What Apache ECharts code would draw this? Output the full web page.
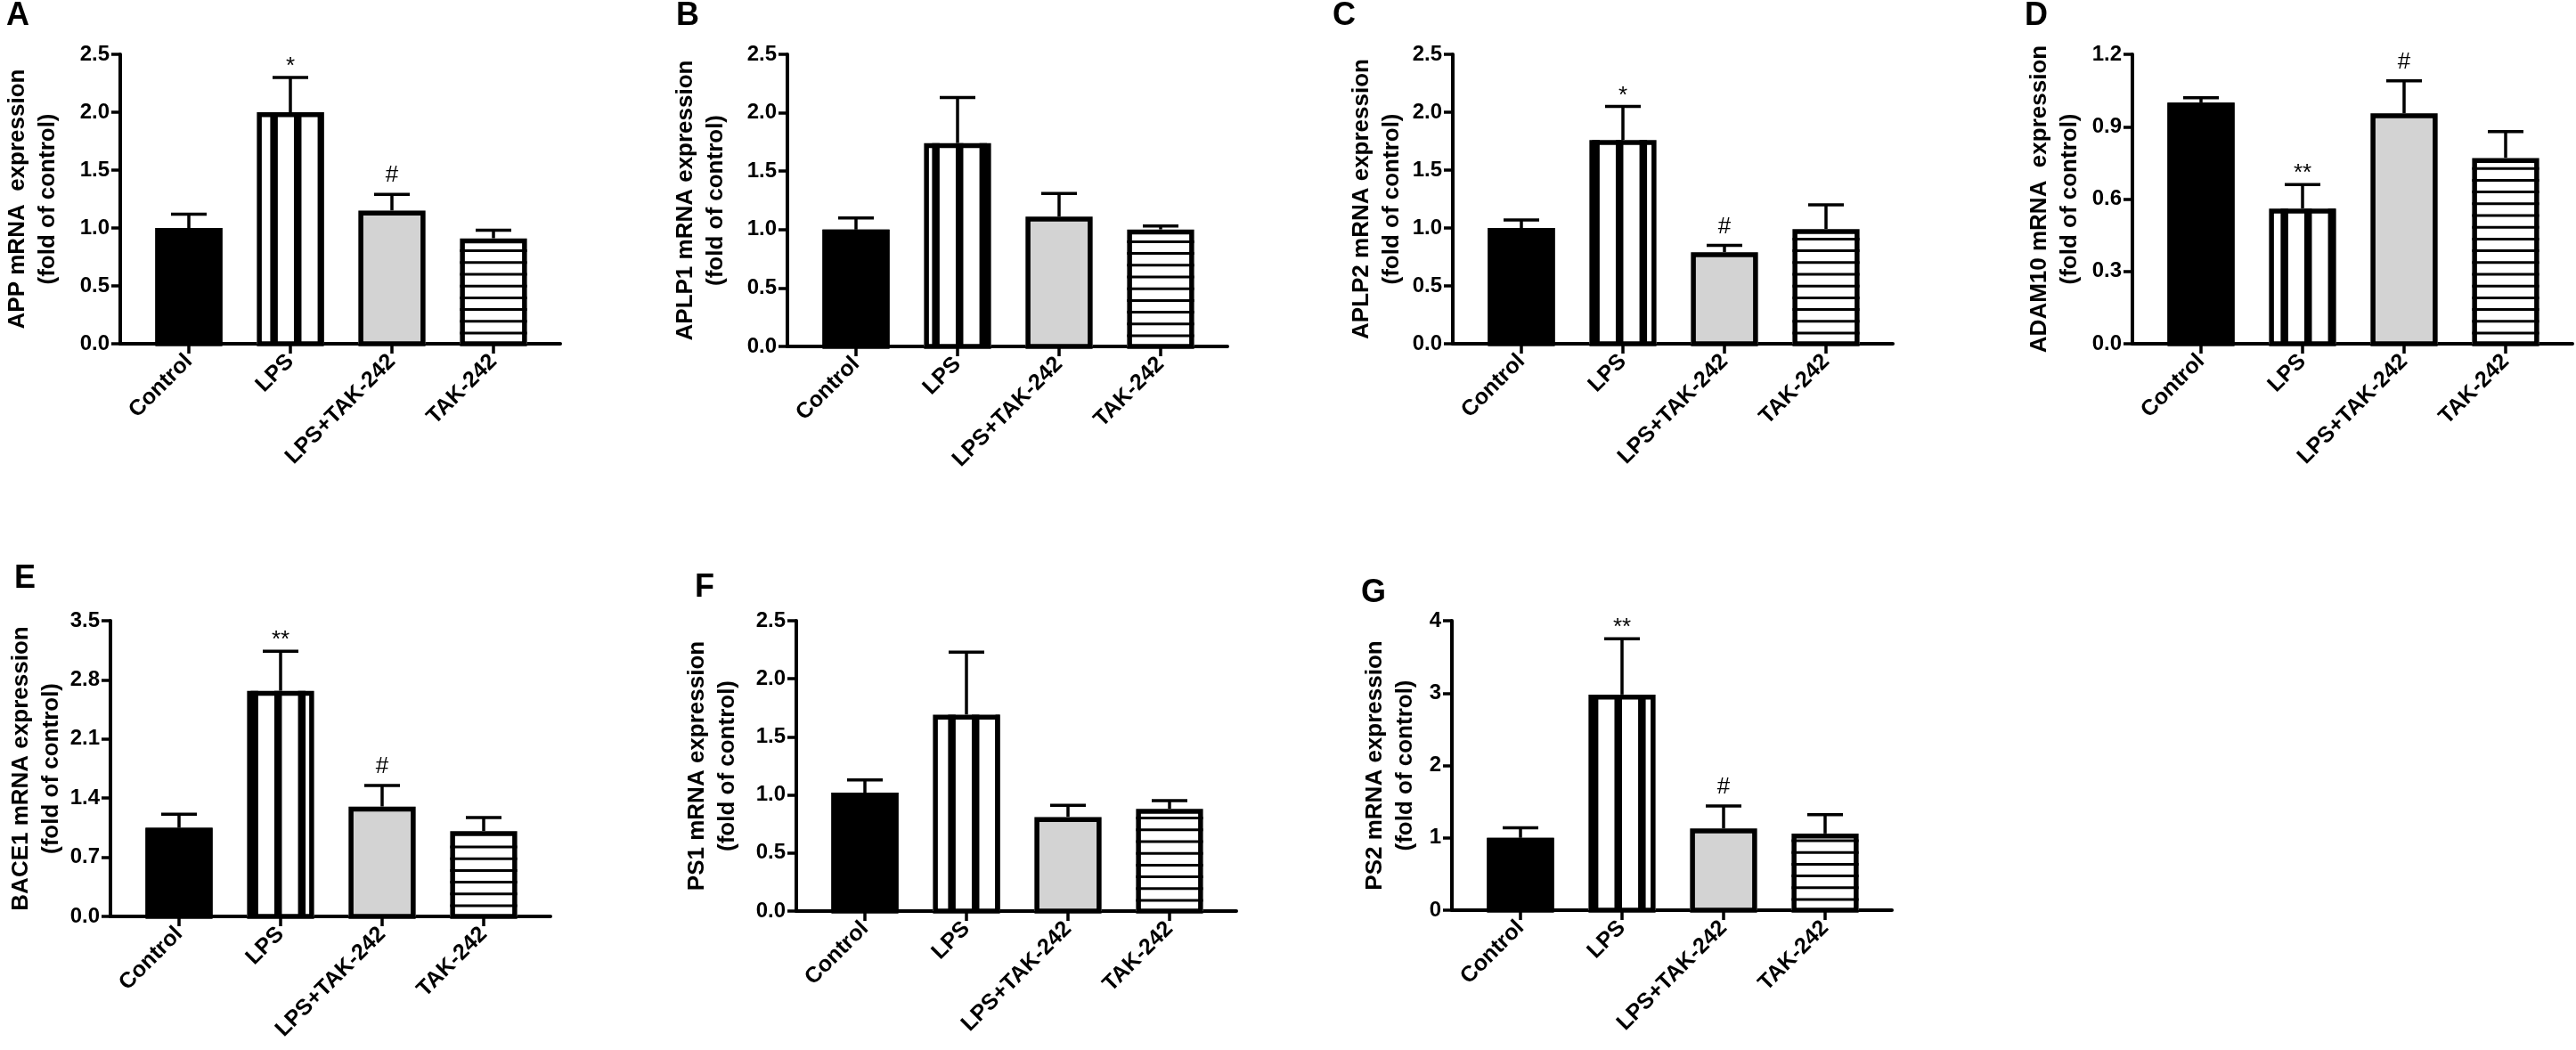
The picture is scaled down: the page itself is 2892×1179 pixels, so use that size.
<!DOCTYPE html>
<html>
<head>
<meta charset="utf-8">
<script src="https://cdn.jsdelivr.net/npm/echarts@6/dist/echarts.min.js"></script>
<style>
  html, body { margin: 0; padding: 0; background: #fff; }
  #chart { width: 2892px; height: 1179px; }
</style>
</head>
<body>
<div id="chart"></div>
<script>
const categories = ['Control', 'LPS', 'LPS+TAK-242', 'TAK-242'];

// mean and SEM (fold of control)
const appMean = [1.00, 2.00, 1.15, 0.91];
const appSem = [0.12, 0.30, 0.14, 0.07];
const aplp1Mean = [1.00, 1.74, 1.11, 1.00];
const aplp1Sem = [0.10, 0.39, 0.20, 0.03];
const aplp2Mean = [1.00, 1.76, 0.79, 0.99];
const aplp2Sem = [0.07, 0.29, 0.06, 0.21];
const adam10Mean = [1.00, 0.56, 0.955, 0.77];
const adam10Sem = [0.02, 0.10, 0.135, 0.11];
const bace1Mean = [1.05, 2.67, 1.30, 1.01];
const bace1Sem = [0.16, 0.47, 0.25, 0.16];
const ps1Mean = [1.02, 1.69, 0.81, 0.88];
const ps1Sem = [0.11, 0.54, 0.10, 0.07];
const ps2Mean = [1.00, 2.98, 1.13, 1.06];
const ps2Sem = [0.14, 0.77, 0.31, 0.26];

const appMarks = ['', '*', '#', ''];
const aplp1Marks = ['', '', '', ''];
const aplp2Marks = ['', '*', '#', ''];
const adam10Marks = ['', '**', '#', ''];
const bace1Marks = ['', '**', '#', ''];
const ps1Marks = ['', '', '', ''];
const ps2Marks = ['', '**', '#', ''];

const panelLetters = ['A', 'B', 'C', 'D', 'E', 'F', 'G'];
const yTitles = [
  'APP mRNA  expression', 'APLP1 mRNA expression', 'APLP2 mRNA expression',
  'ADAM10 mRNA  expression', 'BACE1 mRNA expression', 'PS1 mRNA expression',
  'PS2 mRNA expression'
];
const yMax = [2.5, 2.5, 2.5, 1.2, 3.5, 2.5, 4];
const yStep = [0.5, 0.5, 0.5, 0.3, 0.7, 0.5, 1];
const yDigits = [1, 1, 1, 1, 1, 1, 0];

const means = [appMean, aplp1Mean, aplp2Mean, adam10Mean, bace1Mean, ps1Mean, ps2Mean];
const sems = [appSem, aplp1Sem, aplp2Sem, adam10Sem, bace1Sem, ps1Sem, ps2Sem];
const marks = [appMarks, aplp1Marks, aplp2Marks, adam10Marks, bace1Marks, ps1Marks, ps2Marks];

// page placement of each panel (px)
const layout = [
  { ax: 135,  top: 61,  zero: 386,  nameGap: 64, stripe: 15,  lx: 7,    ly: 0 },
  { ax: 884,  top: 61,  zero: 389,  nameGap: 63, stripe: 9,   lx: 759,  ly: 0 },
  { ax: 1631, top: 61,  zero: 386,  nameGap: 51, stripe: 3,   lx: 1496, ly: 0 },
  { ax: 2394, top: 61,  zero: 386,  nameGap: 53, stripe: 13,  lx: 2273, ly: 0 },
  { ax: 124,  top: 697, zero: 1029, nameGap: 46, stripe: 4,   lx: 16,   ly: 632 },
  { ax: 894,  top: 697, zero: 1023, nameGap: 60, stripe: 17,  lx: 780,  ly: 642 },
  { ax: 1630, top: 697, zero: 1022, nameGap: 35, stripe: 2.5, lx: 1528, ly: 648 }
];

const FONT = '"Liberation Sans", Arial, sans-serif';
const BAND = 114;
const fills = ['#000', '#fff', '#d3d3d3', '#fff'];

const grids = [];
const xAxes = [];
const yAxes = [];
const series = [];
const graphics = [];

function makeRenderer(k) {
  const L = layout[k];
  return function (params, api) {
    const i = params.dataIndex;
    const mean = api.value(1);
    const sem = api.value(2);
    const topPt = api.coord([i, mean]);
    const basePt = api.coord([i, 0]);
    const capPt = api.coord([i, mean + sem]);
    const w = api.size([1, 0])[0] * 0.66;
    const cx = topPt[0];
    const x0 = cx - w / 2, x1 = cx + w / 2;
    const y0 = topPt[1], y1 = basePt[1];
    const bw = 5.5;
    const black = { stroke: '#000', lineWidth: 3.5 };
    const kids = [];

    kids.push({ type: 'line', shape: { x1: cx, y1: y0, x2: cx, y2: capPt[1] }, style: black });
    kids.push({ type: 'line', shape: { x1: cx - 20, y1: capPt[1], x2: cx + 20, y2: capPt[1] }, style: black });

    kids.push({ type: 'rect', shape: { x: x0, y: y0, width: w, height: y1 - y0 }, style: { fill: fills[i] } });

    if (i === 1) {
      for (let sx = x0 + L.stripe; sx < x1; sx += 26.6) {
        kids.push({
          type: 'rect',
          shape: { x: sx, y: y0, width: Math.min(8.5, x1 - sx), height: y1 - y0 },
          style: { fill: '#000' }
        });
      }
    }
    if (i === 3) {
      for (let sy = y1 - 12; sy > y0 + bw; sy -= 13.2) {
        kids.push({ type: 'line', shape: { x1: x0, y1: sy, x2: x1, y2: sy }, style: { stroke: '#000', lineWidth: 3 } });
      }
    }

    kids.push({
      type: 'rect',
      shape: { x: x0 + bw / 2, y: y0 + bw / 2, width: w - bw, height: y1 - y0 - bw / 2 },
      style: { fill: 'none', stroke: '#000', lineWidth: bw }
    });

    const m = marks[k][i];
    if (m) {
      kids.push({
        type: 'text',
        x: cx,
        y: capPt[1] - (m === '#' ? 21 : 12),
        style: { text: m, font: '26px ' + FONT, fill: '#000', align: 'center', verticalAlign: 'middle' }
      });
    }
    return { type: 'group', children: kids };
  };
}

layout.forEach(function (L, k) {
  const h = L.zero - L.top;
  const g0 = grids.length;

  // frame: y axis and the full-length base line
  grids.push({ left: L.ax, top: L.top, width: 494, height: h, containLabel: false, outerBoundsMode: 'none' });
  // bars
  grids.push({ left: L.ax + 20, top: L.top, width: BAND * 4, height: h, containLabel: false, outerBoundsMode: 'none' });

  xAxes.push({
    type: 'value', gridIndex: g0, min: 0, max: 1,
    axisLine: { show: true, onZero: false, lineStyle: { color: '#000', width: 4 } },
    axisTick: { show: false }, axisLabel: { show: false }, splitLine: { show: false }
  });
  xAxes.push({
    type: 'category', gridIndex: g0 + 1, data: categories, boundaryGap: true,
    axisLine: { show: false },
    axisTick: { show: true, alignWithLabel: true, length: 11, lineStyle: { color: '#000', width: 3.5 } },
    axisLabel: {
      rotate: 45, margin: 16, color: '#000', fontSize: 25, fontWeight: 'bold', fontFamily: FONT, interval: 0
    },
    splitLine: { show: false }
  });

  yAxes.push({
    type: 'value', gridIndex: g0, min: 0, max: yMax[k], interval: yStep[k],
    axisLine: { show: true, lineStyle: { color: '#000', width: 4 } },
    axisTick: { show: true, length: 10, lineStyle: { color: '#000', width: 3.5 } },
    axisLabel: {
      margin: 12, color: '#000', fontSize: 24, fontWeight: 'bold', fontFamily: FONT,
      formatter: function (v) { return v.toFixed(yDigits[k]); }
    },
    splitLine: { show: false },
    name: yTitles[k] + '\n(fold of control)',
    nameLocation: 'middle', nameRotate: 90, nameGap: L.nameGap,
    nameTextStyle: { color: '#000', fontSize: 26, fontWeight: 'bold', fontFamily: FONT, lineHeight: 34 }
  });
  yAxes.push({
    type: 'value', gridIndex: g0 + 1, min: 0, max: yMax[k], show: false, splitLine: { show: false }
  });

  series.push({
    type: 'custom',
    xAxisIndex: g0 + 1,
    yAxisIndex: g0 + 1,
    clip: false,
    encode: { x: 0, y: 1 },
    data: categories.map(function (c, i) { return [i, means[k][i], sems[k][i]]; }),
    renderItem: makeRenderer(k)
  });

  graphics.push({
    type: 'text', left: L.lx, top: L.ly,
    style: { text: panelLetters[k], font: 'bold 36px ' + FONT, fill: '#000' }
  });
});

const chart = echarts.init(document.getElementById('chart'));
chart.setOption({
  backgroundColor: '#fff',
  animation: false,
  grid: grids,
  xAxis: xAxes,
  yAxis: yAxes,
  series: series,
  graphic: graphics
});
</script>
</body>
</html>
